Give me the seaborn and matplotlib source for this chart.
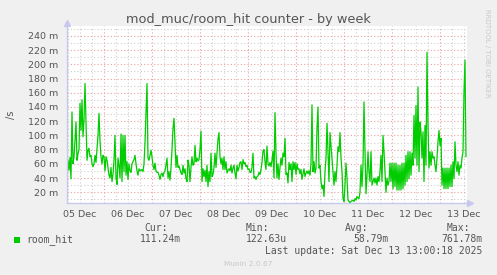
import pandas as pd
import matplotlib
matplotlib.use("Agg")
import matplotlib.pyplot as plt
import matplotlib.dates as mdates
from matplotlib.ticker import MultipleLocator, FuncFormatter, NullFormatter
from matplotlib.patches import Rectangle
import seaborn as sns

# ---------------- data (values in milli-units per second) ----------------
series_name = "room_hit"
start_time = "2025-12-05 05:30"
step = "30min"
title = "mod_muc/room_hit counter - by week"
ylabel = "/s"
stat_labels = ["Cur:", "Min:", "Avg:", "Max:"]
stat_values = ["111.24m", "122.63u", "58.79m", "761.78m"]
last_update = "Last update: Sat Dec 13 13:00:18 2025"
version_text = "Munin 2.0.67"
watermark = "RRDTOOL / TOBI OETIKER"

dec05 = [37, 65, 51, 69, 39, 133, 60, 70, 93, 119, 65, 74, 80, 145, 107, 150, 98, 122, 173, 120,
         65, 79, 82, 70, 72, 60, 56, 60, 72, 62, 80, 100, 131, 92, 70, 60, 72]
dec06 = [70, 50, 70, 65, 55, 44, 40, 55, 35, 45, 65, 100, 40, 31, 68, 58, 40, 102, 35, 100,
         49, 100, 44, 63, 38, 60, 50, 48, 60, 63, 66, 72, 60, 50, 44, 53, 50, 51, 52, 49,
         60, 90, 130, 173, 68, 65, 72, 79]
dec07 = [70, 58, 52, 61, 50, 48, 48, 44, 38, 45, 47, 42, 48, 50, 58, 68, 40, 49, 37, 55,
         80, 110, 124, 90, 55, 72, 55, 57, 52, 47, 45, 58, 47, 53, 39, 35, 65, 58, 35, 55,
         70, 58, 60, 86, 63, 68, 64, 66]
dec08 = [80, 106, 35, 53, 42, 51, 35, 58, 28, 49, 35, 75, 42, 45, 55, 75, 55, 75, 95, 104,
         70, 60, 68, 52, 70, 52, 63, 47, 51, 53, 50, 58, 47, 54, 58, 47, 39, 58, 50, 55,
         62, 63, 52, 66, 60, 62, 56, 58]
dec09 = [52, 53, 48, 48, 55, 75, 40, 42, 38, 42, 43, 48, 45, 52, 62, 78, 80, 63, 52, 85,
         60, 57, 62, 56, 65, 78, 40, 132, 75, 40, 60, 38, 55, 68, 58, 75, 70, 96, 45, 47,
         33, 62, 52, 60, 35, 63, 52, 62]
dec10 = [45, 60, 52, 53, 46, 52, 38, 46, 53, 42, 47, 50, 46, 50, 44, 61, 143, 49, 63, 47,
         54, 111, 140, 54, 58, 35, 25, 30, 14, 49, 68, 117, 77, 35, 104, 86, 70, 49, 30, 49,
         35, 58, 84, 77, 104, 68, 49, 11]
dec11 = [7, 30, 61, 40, 9, 7, 5, 7, 8, 9, 7, 11, 9, 14, 12, 11, 20, 58, 28, 58,
         147, 77, 18, 44, 77, 49, 35, 77, 30, 35, 40, 33, 40, 30, 42, 35, 49, 72, 35, 100,
         77, 49, 20, 40, 30, 35, 61, 35]
dec12 = [61, 25, 61, 28, 61, 23, 58, 23, 58, 23, 61, 25, 61, 30, 72, 35, 77, 39, 77, 44,
         75, 58, 128, 68, 142, 58, 168, 49, 119, 105, 68, 105, 35, 114, 58, 217, 114, 54, 77, 58,
         77, 68, 70, 58, 49, 68, 91, 107]
dec13 = [86, 96, 30, 54, 25, 54, 25, 54, 25, 54, 28, 58, 28, 63, 39, 91, 58, 49, 63, 44,
         58, 54, 68, 77, 161, 206, 70]

y_major_step = 20
y_minor_step = 10

values = dec05 + dec06 + dec07 + dec08 + dec09 + dec10 + dec11 + dec12 + dec13
times = pd.date_range(start_time, periods=len(values), freq=step)
df = pd.DataFrame({"time": times, "value": values})

# ---------------- style ----------------
sns.set_style("white")
plt.rcParams["font.family"] = ["DejaVu Sans"]

W, H = 497, 275
BG = "#f0f0f0"
TXT = "#555555"
AXC = "#c8c8ee"
MAJ = "#eaa0a0"
MIN = "#cfcfcf"

fig = plt.figure(figsize=(W / 100, H / 100), dpi=100, facecolor=BG)
left, right, top, bottom = 67, 467, 25.6, 202.7
ax = fig.add_axes([left / W, 1 - bottom / H, (right - left) / W, (bottom - top) / H])
ax.set_facecolor("white")

sns.lineplot(data=df, x="time", y="value", ax=ax, color="#00cc00", lw=0.9, legend=False)

ax.set_xlim(times[0], times[0] + pd.Timedelta(hours=200))
ax.set_ylim(5.3, 254.5)

# x axis: midnight major grid (red), 6-hour minor grid (gray), labels at noon
ax.xaxis.set_major_locator(mdates.HourLocator(byhour=[0]))
ax.xaxis.set_minor_locator(mdates.HourLocator(byhour=[6, 12, 18]))
ax.xaxis.set_major_formatter(NullFormatter())


def noon_label(x, pos):
    d = mdates.num2date(x)
    return d.strftime("%d %b") if d.hour == 12 else ""


ax.xaxis.set_minor_formatter(FuncFormatter(noon_label))

ax.yaxis.set_major_locator(MultipleLocator(y_major_step))
ax.yaxis.set_minor_locator(MultipleLocator(y_minor_step))
ax.yaxis.set_major_formatter(FuncFormatter(lambda v, p: f"{v:.0f} m"))

ax.set_axisbelow(True)
ax.grid(which="major", color=MAJ, ls=(0, (1, 2)), lw=0.8)
ax.grid(which="minor", color=MIN, ls=(0, (1, 2)), lw=0.8)

ax.tick_params(axis="both", which="both", length=2, width=0.6, color=AXC,
               labelsize=6.8, labelcolor=TXT)
ax.tick_params(axis="y", which="major", pad=4.5)
ax.tick_params(axis="x", which="minor", pad=3)
ax.set_xlabel("")
ax.set_ylabel("")

for s in ("top", "right"):
    ax.spines[s].set_visible(False)
for s in ("left", "bottom"):
    ax.spines[s].set_color(AXC)
    ax.spines[s].set_linewidth(1.0)

# axis arrows
ax.plot([0], [1.015], marker="^", ms=4, color=AXC, transform=ax.transAxes, clip_on=False)
ax.plot([1.008], [0], marker=">", ms=4, color=AXC, transform=ax.transAxes, clip_on=False)


def fx(px):
    return px / W


def fy(py):
    return 1 - py / H


# title and side texts
fig.text(fx(248.5), fy(19.3), title, ha="center", va="center", fontsize=9.3, color=TXT)
fig.text(fx(11), fy(115), ylabel, ha="center", va="center", rotation=90, fontsize=7, color=TXT)
fig.text(fx(487.3), fy(53), watermark, ha="center", va="center", rotation=270,
         fontsize=5, color="#c8c8c8")
fig.text(fx(248), fy(264), version_text, ha="center", va="center", fontsize=5.3, color="#c8c8c8")

# legend block
mono = "DejaVu Sans Mono"
fig.patches.append(Rectangle((fx(14), fy(242.7)), fx(6), 6 / H, transform=fig.transFigure,
                             facecolor="#00cc00", edgecolor="none"))
fig.text(fx(26.7), fy(239.3), series_name, ha="left", va="center", family=mono, fontsize=7, color=TXT)
label_right = [168.3, 269, 368.3, 470]
value_right = [181, 286.7, 388.3, 482.3]
for lab, xr in zip(stat_labels, label_right):
    fig.text(fx(xr), fy(227.7), lab, ha="right", va="center", family=mono, fontsize=7, color=TXT)
for val, xr in zip(stat_values, value_right):
    fig.text(fx(xr), fy(239.3), val, ha="right", va="center", family=mono, fontsize=7, color=TXT)
fig.text(fx(482.3), fy(251), last_update, ha="right", va="center", family=mono, fontsize=7, color=TXT)

fig.savefig("out.png", dpi=100, facecolor=BG)
